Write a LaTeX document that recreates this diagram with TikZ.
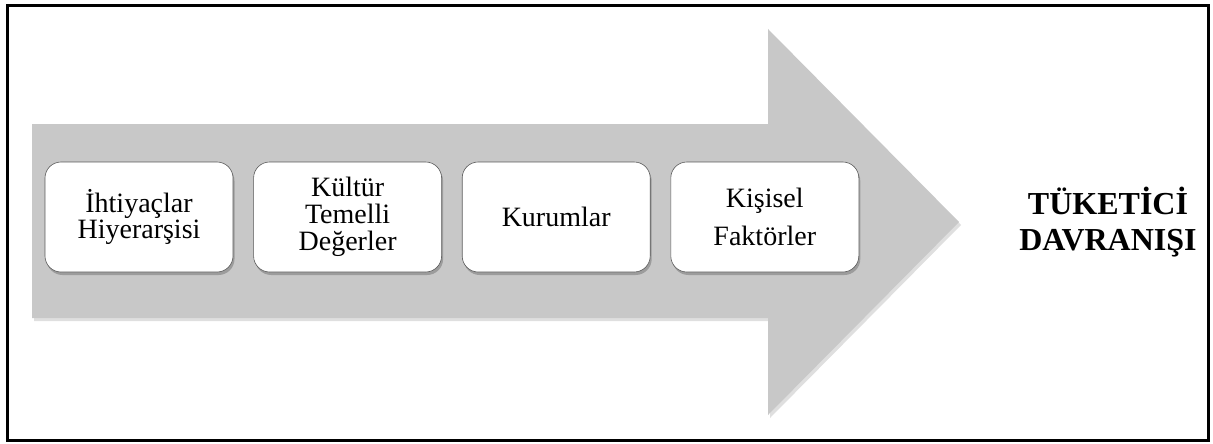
\documentclass[tikz,border=0pt]{standalone}
\usepackage{fontspec}
\setmainfont{Liberation Serif}
\usetikzlibrary{positioning}
\usetikzlibrary{shadows}
\definecolor{arrowgray}{RGB}{200,200,200}
\definecolor{boxline}{RGB}{90,90,90}

\begin{document}
\begin{tikzpicture}[x=1pt, y=-1pt,
                    factor/.style={draw=boxline, line width=0.6pt, fill=white,
                        rounded corners=16pt, minimum width=188pt, minimum height=110pt,
                        align=center, font=\fontsize{28}{26}\selectfont,
                        drop shadow={shadow xshift=1.5pt, shadow yshift=-3pt, opacity=0.6}},
                    node distance=20pt]
    \useasboundingbox (0,0) rectangle (1213,444);
    \draw[line width=3pt] (7,6) rectangle (1208,440);
    % big arrow
    \fill[arrowgray, drop shadow={shadow xshift=2pt, shadow yshift=-3pt, opacity=0.25}]
        (32,124) -- (768,124) -- (768,29) -- (959,222) -- (768,415) -- (768,318) -- (32,318) -- cycle;
    \node[factor] (ihtiyac) at (139,217) {İhtiyaçlar\\Hiyerarşisi};
    \node[factor, right=of ihtiyac] (kultur) {Kültür\\[1pt]Temelli\\[1pt]Değerler};
    \node[factor, right=of kultur] (kurum) {Kurumlar};
    \node[factor, right=of kurum] (kisisel) {Kişisel\\[12pt]Faktörler};
    \node[align=center, font=\fontsize{32}{36}\selectfont\bfseries] (davranis) at (1108,222)
        {TÜKETİCİ\\DAVRANIŞI};
\end{tikzpicture}
\end{document}
